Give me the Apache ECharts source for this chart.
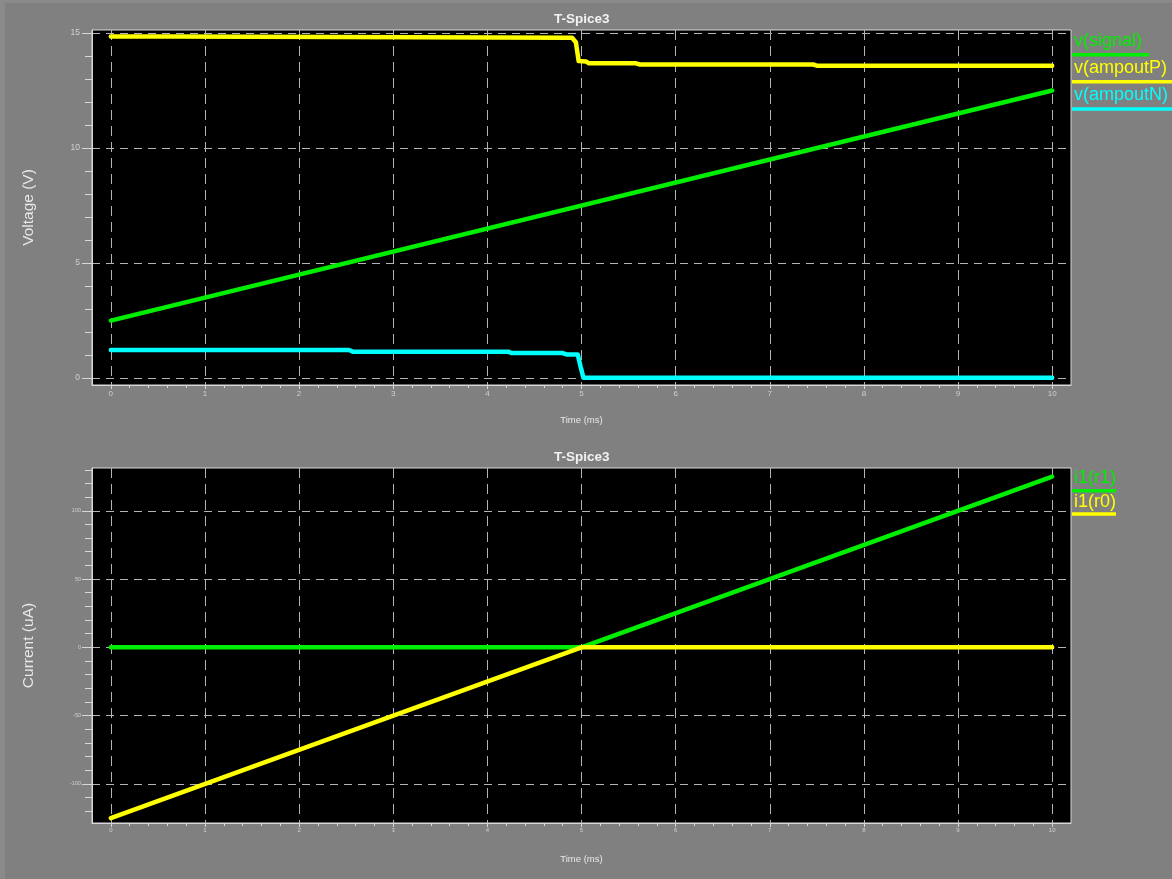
<!DOCTYPE html>
<html>
<head>
<meta charset="utf-8">
<title>T-Spice3</title>
<script src="https://cdn.jsdelivr.net/npm/echarts@6/dist/echarts.min.js"></script>
<style>
  html, body { margin: 0; padding: 0; background: #808080; }
  #chart { width: 1172px; height: 879px; }
</style>
</head>
<body>
<div id="chart"></div>
<script>
// ---- Transient results (time in ms) ----
// Top panel: node voltages (V)
const signalPts   = [[0, 2.5], [10, 12.5]];
const ampoutPPts  = [[0, 14.85], [0.65, 14.85], [0.67, 14.79], [4.9, 14.79], [4.94, 14.6],
                     [4.97, 13.78], [5.05, 13.76], [5.08, 13.68], [5.58, 13.68],
                     [5.62, 13.63], [7.46, 13.63], [7.5, 13.58], [10, 13.58]];
const ampoutNPts  = [[0, 1.22], [2.53, 1.22], [2.57, 1.15], [4.22, 1.15], [4.26, 1.09],
                     [4.8, 1.09], [4.84, 1.03], [4.96, 1.03], [4.99, 0.5], [5.02, 0.02],
                     [10, 0.02]];
// Bottom panel: resistor currents (uA)
const ir1Pts = [[0, 0], [5, 0], [10, 125]];
const ir0Pts = [[0, -125], [5, 0], [10, 0]];

// Axis tick labels
const timeTicks    = [0, 1, 2, 3, 4, 5, 6, 7, 8, 9, 10];
const voltTicks    = [0, 5, 10, 15];
const currentTicks = [-100, -50, 0, 50, 100];

// Series names / colours
const topNames    = ['v(signal)', 'v(ampoutP)', 'v(ampoutN)'];
const bottomNames = ['i1(r1)', 'i1(r0)'];
const GREEN = '#00ee00', YELLOW = '#ffff00', CYAN = '#00ffff';

// Minor tick positions
function steps(a, b, s) {
  const out = [];
  for (let i = 0; a + i * s <= b + 1e-9; i++) out.push(+(a + i * s).toFixed(4));
  return out;
}
const timeMinor = steps(0, 10, 0.2);
const voltMinor = steps(0, 15, 1);
const currMinor = steps(-120, 130, 10);

const AXIS_COL = '#d8d8d8';
const GRID_COL = '#b4b4b4';
const LABEL_COL = '#d0d0d0';
const FONT = '"Liberation Sans", Arial, sans-serif';

const plotLeft = 92, plotWidth = 979, plotHeight = 355;
const topY = 30, botY = 468;

function mainX(grid, labelSize, nameGap) {
  return {
    type: 'value', gridIndex: grid, min: -0.2, max: 10.2, position: 'bottom',
    name: 'Time (ms)', nameLocation: 'middle', nameGap: nameGap,
    nameTextStyle: { color: '#e8e8e8', fontSize: 9.5, fontFamily: FONT },
    axisLine: { show: true, onZero: false, lineStyle: { color: AXIS_COL, width: 1 } },
    axisTick: { show: true, customValues: timeTicks, length: 4, lineStyle: { color: AXIS_COL } },
    axisLabel: { show: true, customValues: timeTicks, color: LABEL_COL, fontSize: labelSize,
                 fontFamily: FONT, margin: labelSize > 7 ? 5 : 4 },
    splitLine: { show: true, lineStyle: { color: GRID_COL, type: [10, 6], width: 1 } }
  };
}
function minorX(grid) {
  return {
    type: 'value', gridIndex: grid, min: -0.2, max: 10.2, position: 'bottom',
    axisLine: { show: false, onZero: false },
    axisTick: { show: true, customValues: timeMinor, length: 3, lineStyle: { color: AXIS_COL } },
    axisLabel: { show: false }, splitLine: { show: false }
  };
}
function mainY(grid, min, max, ticks, name, labelSize, margin) {
  return {
    type: 'value', gridIndex: grid, min: min, max: max, position: 'left',
    name: name, nameLocation: 'middle', nameRotate: 90, nameGap: 55,
    nameTextStyle: { color: '#e8e8e8', fontSize: 15.5, fontFamily: FONT },
    axisLine: { show: true, onZero: false, lineStyle: { color: AXIS_COL, width: 1 } },
    axisTick: { show: true, customValues: ticks, length: 10, lineStyle: { color: AXIS_COL } },
    axisLabel: { show: true, customValues: ticks, color: LABEL_COL, fontSize: labelSize,
                 fontFamily: FONT, margin: margin },
    splitLine: { show: true, lineStyle: { color: GRID_COL, type: [8, 6], width: 1 } }
  };
}
function minorY(grid, min, max, ticks) {
  return {
    type: 'value', gridIndex: grid, min: min, max: max, position: 'left',
    axisLine: { show: false, onZero: false },
    axisTick: { show: true, customValues: ticks, length: 7, lineStyle: { color: AXIS_COL } },
    axisLabel: { show: false }, splitLine: { show: false }
  };
}
function trace(name, data, color, xi, yi) {
  return {
    type: 'line', name: name, data: data, xAxisIndex: xi, yAxisIndex: yi,
    showSymbol: false, symbol: 'none', silent: true, animation: false,
    lineStyle: { color: color, width: 4.5, cap: 'round', join: 'round' }
  };
}
function legendEntry(text, color, cy, lineY, lineX2) {
  return [
    { type: 'text', left: 1074, top: cy - 11, silent: true,
      style: { text: text, fill: color, font: '18px ' + FONT } },
    { type: 'line', silent: true,
      shape: { x1: 1072, y1: lineY, x2: lineX2, y2: lineY },
      style: { stroke: color, lineWidth: 3.4 } }
  ];
}
function panelTitle(top) {
  return { text: 'T-Spice3', left: 549, top: top,
           textStyle: { color: '#f2f2f2', fontSize: 13.5, fontWeight: 'bold', fontFamily: FONT } };
}

// Thin lighter frame along the window's left and top edges
const frame = [
  { type: 'rect', left: 0, top: 0, z: -10, silent: true,
    shape: { width: 5, height: 879 }, style: { fill: '#8a8a8a' } },
  { type: 'rect', left: 0, top: 0, z: -10, silent: true,
    shape: { width: 1172, height: 3 }, style: { fill: '#8a8a8a' } }
];

const chart = echarts.init(document.getElementById('chart'), null, { renderer: 'canvas' });
chart.setOption({
  backgroundColor: '#808080',
  animation: false,
  title: [panelTitle(7), panelTitle(445)],
  grid: [
    { left: plotLeft, top: topY, width: plotWidth, height: plotHeight, show: true,
      backgroundColor: '#000', borderColor: AXIS_COL, borderWidth: 1, containLabel: false },
    { left: plotLeft, top: botY, width: plotWidth, height: plotHeight, show: true,
      backgroundColor: '#000', borderColor: AXIS_COL, borderWidth: 1, containLabel: false }
  ],
  xAxis: [mainX(0, 8, 30), minorX(0), mainX(1, 6, 31), minorX(1)],
  yAxis: [
    mainY(0, -0.3, 15.13, voltTicks, 'Voltage (V)', 8.5, 12),
    minorY(0, -0.3, 15.13, voltMinor),
    mainY(1, -128.6, 131.3, currentTicks, 'Current (uA)', 5.5, 11),
    minorY(1, -128.6, 131.3, currMinor)
  ],
  series: [
    trace(topNames[0], signalPts, GREEN, 0, 0),
    trace(topNames[1], ampoutPPts, YELLOW, 0, 0),
    trace(topNames[2], ampoutNPts, CYAN, 0, 0),
    trace(bottomNames[0], ir1Pts, GREEN, 2, 2),
    trace(bottomNames[1], ir0Pts, YELLOW, 2, 2)
  ],
  graphic: [].concat(
    frame,
    legendEntry(topNames[0], GREEN, 43.5, 54.7, 1149),
    legendEntry(topNames[1], YELLOW, 70.5, 81.7, 1172),
    legendEntry(topNames[2], CYAN, 97.5, 109, 1172),
    legendEntry(bottomNames[0], GREEN, 480.5, 490.7, 1116),
    legendEntry(bottomNames[1], YELLOW, 504, 514, 1116)
  )
});
</script>
</body>
</html>
